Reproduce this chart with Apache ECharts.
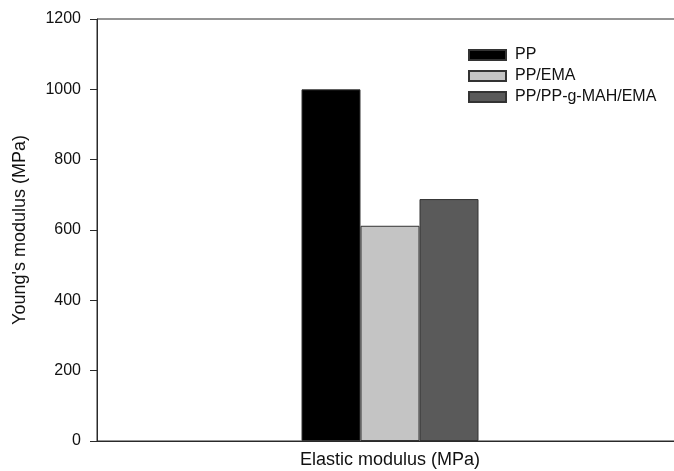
<!DOCTYPE html>
<html>
<head>
<meta charset="utf-8">
<script src="https://cdn.jsdelivr.net/npm/echarts@6/dist/echarts.min.js"></script>
<style>
  html, body { margin: 0; padding: 0; background: #fff; overflow: hidden; }
  /* the plot frame continues past the right edge of the window */
  #chart { width: 683px; height: 471px; }
</style>
</head>
<body>
<div id="chart"></div>
<script>
// Young's modulus of the three blends
const categories = ['Elastic modulus (MPa)'];
const seriesNames = ['PP', 'PP/EMA', 'PP/PP-g-MAH/EMA'];
const ppValues = [1000];
const ppEmaValues = [612];
const ppMahEmaValues = [688];
const yTicks = { min: 0, max: 1200, step: 200 };

const fills = ['#000000', '#c4c4c4', '#5a5a5a'];
const valueSets = [ppValues, ppEmaValues, ppMahEmaValues];
const font = 'Liberation Sans, Arial, Helvetica, sans-serif';
const axisColor = '#2a2a2a';

const chart = echarts.init(document.getElementById('chart'), null, { renderer: 'canvas' });

chart.setOption({
  animation: false,
  backgroundColor: '#ffffff',
  textStyle: { fontFamily: font, color: '#111' },
  grid: {
    left: 97, top: 19, right: 0, bottom: 30,
    show: true, borderColor: axisColor, borderWidth: 1
  },
  legend: {
    orient: 'vertical',
    left: 468, top: 47,
    padding: 0,
    itemWidth: 37, itemHeight: 10, itemGap: 5,
    icon: 'rect',
    data: seriesNames,
    textStyle: { fontFamily: font, fontSize: 16, color: '#111', lineHeight: 16, padding: [0, 0, 0, 4] }
  },
  xAxis: {
    type: 'category',
    data: categories,
    axisLine: { lineStyle: { color: axisColor, width: 1 } },
    axisTick: { alignWithLabel: true, length: 5, lineStyle: { color: axisColor } },
    axisLabel: { fontFamily: font, fontSize: 18, color: '#111', margin: 10 }
  },
  yAxis: {
    type: 'value',
    min: yTicks.min, max: yTicks.max, interval: yTicks.step,
    name: "Young's modulus (MPa)",
    nameLocation: 'middle',
    nameGap: 68,
    nameTextStyle: { fontFamily: font, fontSize: 18, color: '#111' },
    axisLine: { show: true, lineStyle: { color: axisColor, width: 1 } },
    axisTick: { show: true, length: 7, lineStyle: { color: axisColor } },
    axisLabel: { fontFamily: font, fontSize: 16, color: '#111', margin: 16, formatter: v => String(v) },
    splitLine: { show: false }
  },
  series: seriesNames.map((name, i) => ({
    name,
    type: 'bar',
    data: valueSets[i],
    barWidth: 59,
    barGap: '0%',
    itemStyle: { color: fills[i], borderColor: '#333', borderWidth: 1 }
  }))
});
</script>
</body>
</html>
